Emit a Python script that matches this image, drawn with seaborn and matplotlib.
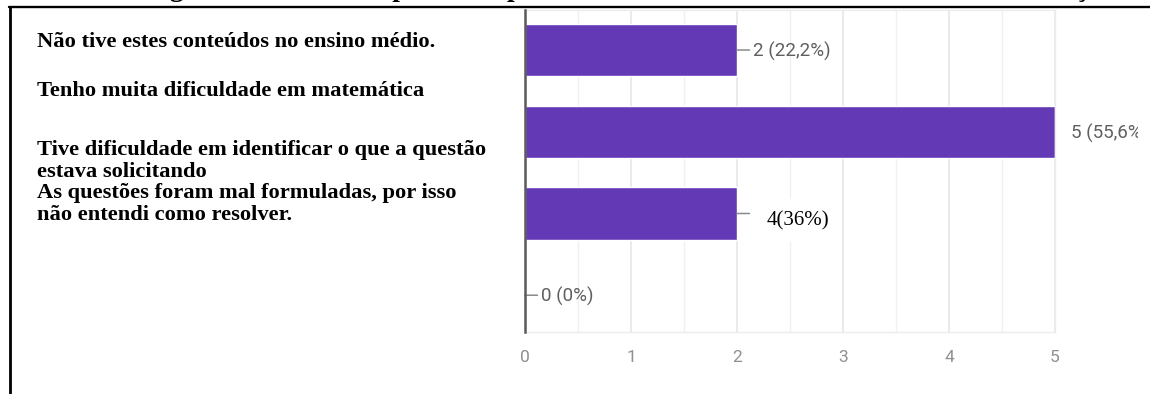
import matplotlib
matplotlib.use("Agg")
import matplotlib.pyplot as plt
from matplotlib.lines import Line2D
from matplotlib.transforms import Bbox, TransformedBbox
import pandas as pd
import seaborn as sns

# Survey answers: reasons given for difficulty in solving the questions
reasons = [
    "Não tive estes conteúdos no ensino médio.",
    "Tenho muita dificuldade em matemática",
    "Tive dificuldade em identificar o que a questão\nestava solicitando",
    "As questões foram mal formuladas, por isso\nnão entendi como resolver.",
]
counts = [2, 5, 2, 0]
percents = ["22,2", "55,6", "22,2", "0"]
corrected_index = 2
corrected_label = "4(36%)"
ticks = [0, 1, 2, 3, 4, 5]
caption = "Figura 00: Motivos apontados pelos educadores sobre as dificuldades de resolução"

W, H = 1150, 394
PURPLE = "#6439b6"

sns.set_style("white")
plt.rcParams["font.family"] = ["Roboto", "DejaVu Sans"]

df = pd.DataFrame({"motivo": reasons, "respostas": counts})

fig = plt.figure(figsize=(W / 100, H / 100), dpi=100)
fig.patch.set_facecolor("white")

def fx(px):
    return px / W

def fy(py):
    return 1 - py / H

ax = fig.add_axes([fx(525), fy(332), fx(1055) - fx(525), fy(10) - fy(332)])
sns.barplot(data=df, x="respostas", y="motivo", orient="h", color=PURPLE,
            saturation=1, width=0.64, ax=ax, zorder=2)

ax.set_xlim(ticks[0], ticks[-1])
ax.set_ylim(3.45, -0.49)
ax.set_xticks(ticks)
ax.set_xticks([t + 0.5 for t in ticks[:-1]], minor=True)
ax.grid(axis="x", which="major", color="#e6e6e6", lw=1.2, zorder=0)
ax.grid(axis="x", which="minor", color="#f0f0f0", lw=1.0, zorder=0)
ax.set_axisbelow(True)
ax.set_yticks([])
ax.set_xlabel("")
ax.set_ylabel("")
ax.tick_params(axis="x", which="both", length=0, labelsize=12.5,
               labelcolor="#8f8f8f", pad=13)
for name in ("top", "right", "bottom"):
    ax.spines[name].set_color("#ececec")
    ax.spines[name].set_linewidth(1.0)
ax.spines["left"].set_color("#5a5a5a")
ax.spines["left"].set_linewidth(1.8)
ax.spines["left"].set_zorder(4)

# value labels with short leader lines
clip = TransformedBbox(Bbox([[0, 0], [fx(1138), 1]]), fig.transFigure)
for i, (v, p) in enumerate(zip(counts, percents)):
    if v < ticks[-1]:
        ax.annotate("", xy=(v, i), xytext=(9, 0), textcoords="offset points",
                    arrowprops=dict(arrowstyle="-", color="#8a8a8a", lw=1.1,
                                    shrinkA=0, shrinkB=0))
    if i == corrected_index:
        continue
    txt = ax.annotate(f"{v} ({p}%)", xy=(v, i), xytext=(11.5, -1),
                      textcoords="offset points", va="center", ha="left",
                      fontsize=13.5, color="#5f5f5f", annotation_clip=False)
    txt.set_clip_on(True)
    txt.set_clip_box(clip)

# corrected count written over the third bar's label
ax.annotate(corrected_label, xy=(counts[corrected_index], corrected_index),
            xytext=(21.5, -5), textcoords="offset points", va="center",
            ha="left", fontsize=15, color="black", family="Liberation Serif",
            bbox=dict(boxstyle="square,pad=0.55", fc="white", ec="none"),
            annotation_clip=False, zorder=6)

# answer options listed on the left
first_baselines = [46.7, 96, 155, 198.3]
step = 21.5
for text, base in zip(reasons, first_baselines):
    for k, line in enumerate(text.split("\n")):
        fig.text(fx(37), fy(base + k * step), line, ha="left", va="baseline",
                 fontsize=16.2, fontweight="bold", color="black",
                 family="Liberation Serif")

# caption running off the top edge
fig.text(fx(145), fy(-4), caption, ha="left", va="baseline", fontsize=20,
         fontweight="bold", family="Liberation Serif", color="black")

# page frame
fig.add_artist(Line2D([fx(9), 1], [fy(7), fy(7)], color="black", lw=1.7,
                      transform=fig.transFigure))
fig.add_artist(Line2D([fx(10), fx(10)], [0, fy(7)], color="black", lw=2.0,
                      transform=fig.transFigure))

fig.savefig("out.png", dpi=100, facecolor="white")
